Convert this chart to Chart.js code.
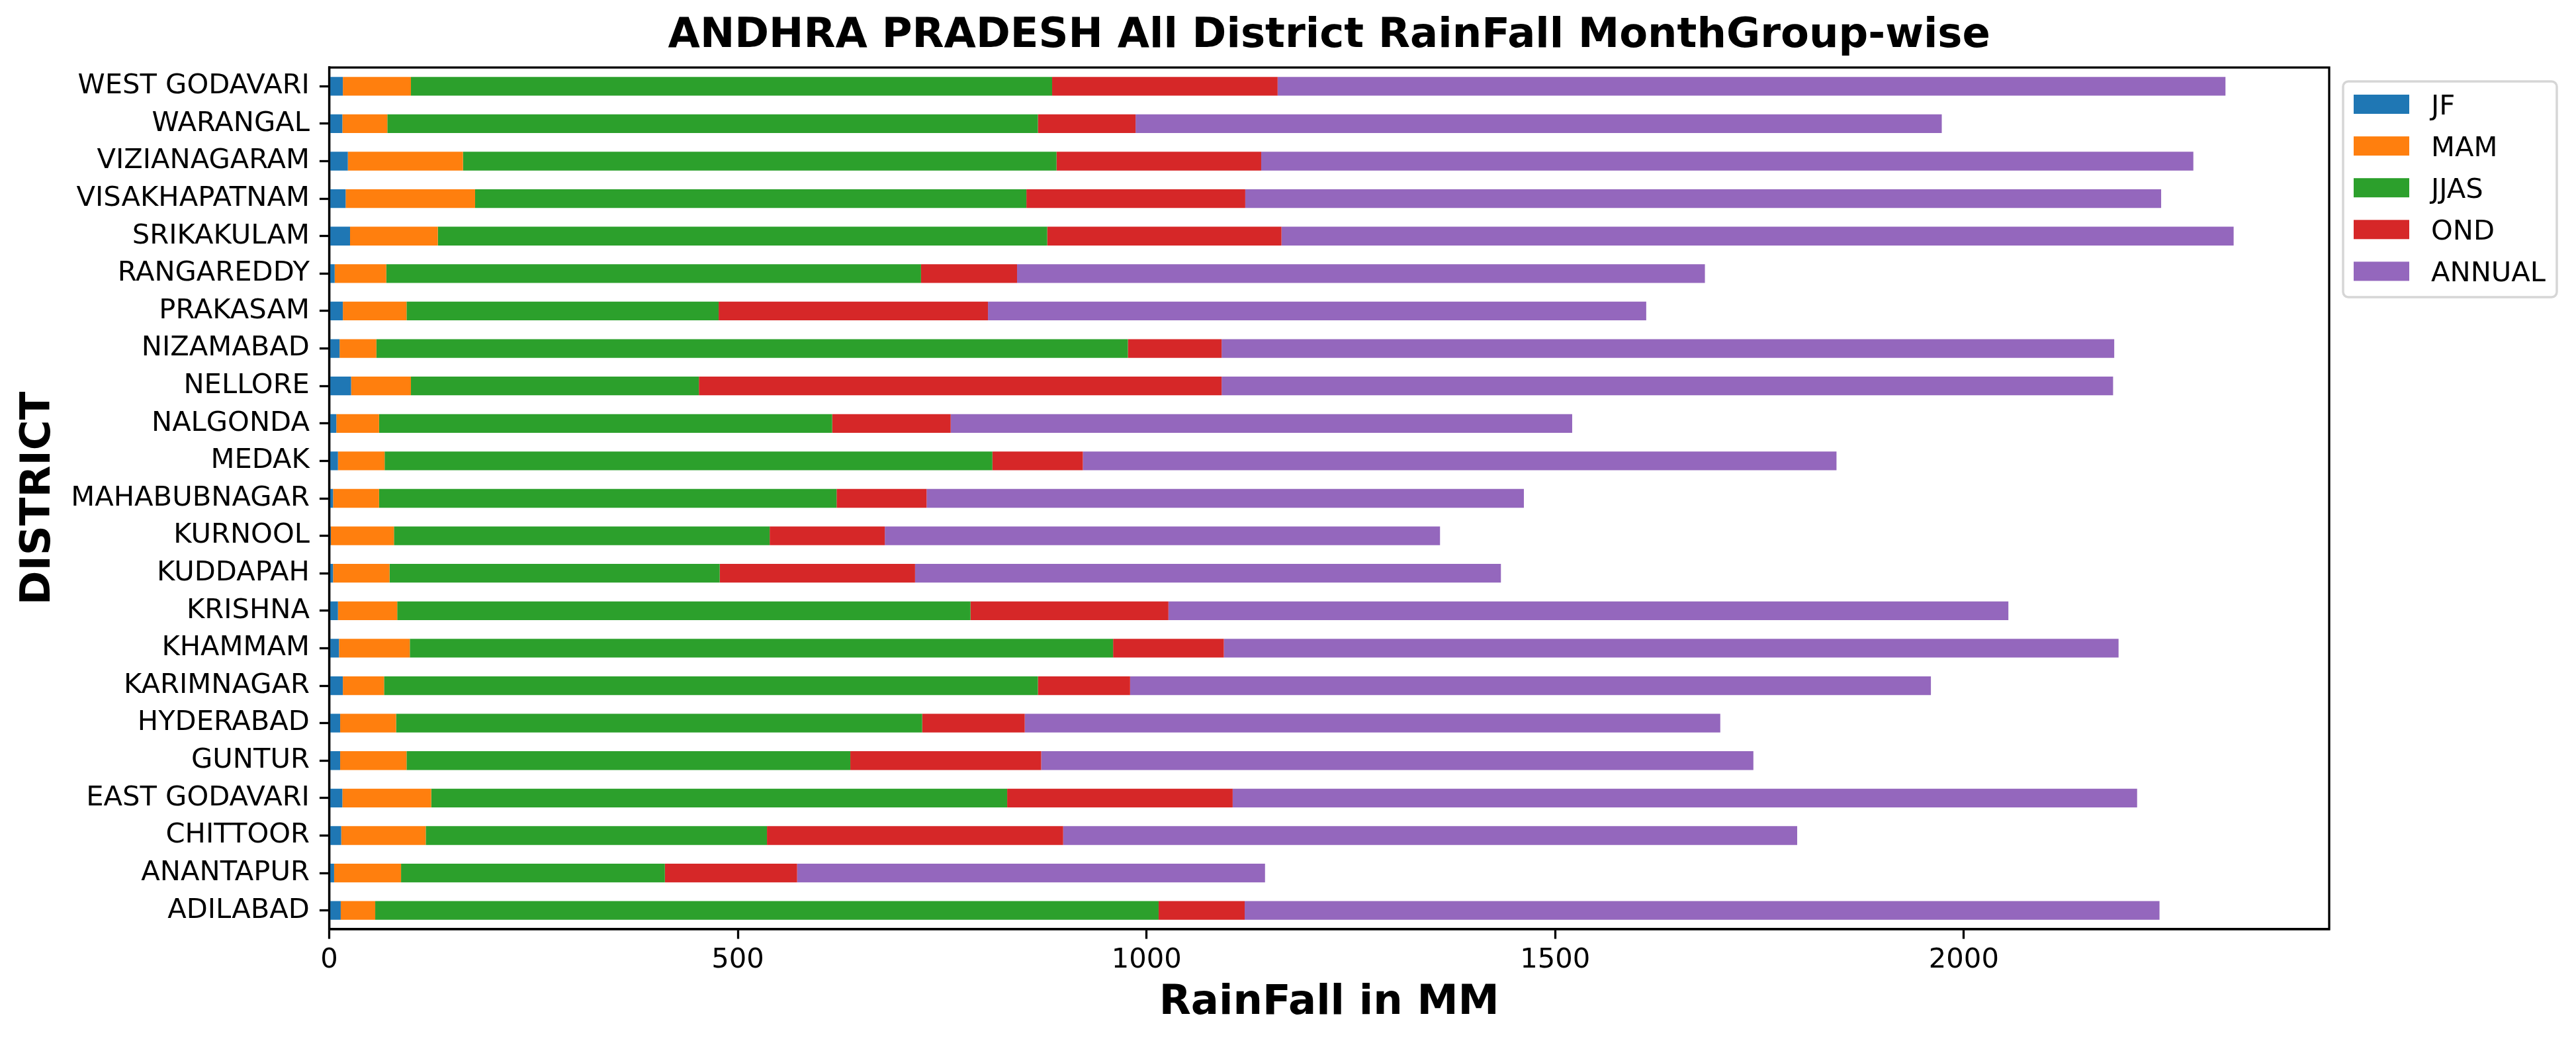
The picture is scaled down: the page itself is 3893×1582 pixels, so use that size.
<!DOCTYPE html>
<html>
<head>
<meta charset="utf-8">
<script src="https://cdn.jsdelivr.net/npm/chart.js@4.4.1/dist/chart.umd.min.js"></script>
<style>
html,body{margin:0;padding:0;background:#fff;overflow:hidden}
#wrap{width:3893px;height:1582px;position:relative}
canvas{display:block}
</style>
</head>
<body>
<div id="wrap"><canvas id="c" width="3893" height="1582"></canvas></div>
<script>
const titleText = 'ANDHRA PRADESH All District RainFall MonthGroup-wise';
const xTitle = 'RainFall in MM';
const yTitle = 'DISTRICT';

const districts = ['ADILABAD','ANANTAPUR','CHITTOOR','EAST GODAVARI','GUNTUR','HYDERABAD','KARIMNAGAR','KHAMMAM','KRISHNA','KUDDAPAH','KURNOOL','MAHABUBNAGAR','MEDAK','NALGONDA','NELLORE','NIZAMABAD','PRAKASAM','RANGAREDDY','SRIKAKULAM','VISAKHAPATNAM','VIZIANAGARAM','WARANGAL','WEST GODAVARI'];

const jf     = [14.1, 6.0, 14.7, 16.1, 13.4, 13.4, 16.7, 12.0, 10.7, 4.7, 2.0, 4.7, 10.7, 8.7, 26.8, 12.7, 16.7, 6.7, 25.5, 20.1, 22.8, 16.1, 16.7];
const mam    = [42.2, 81.9, 103.4, 108.7, 81.2, 68.4, 50.4, 86.6, 72.5, 69.1, 77.2, 56.3, 57.1, 52.3, 73.2, 45.0, 77.9, 63.1, 107.4, 158.4, 140.9, 55.0, 83.3];
const jjas   = [958.5, 322.8, 417.5, 704.7, 543.0, 643.7, 800.0, 860.5, 701.4, 404.0, 459.7, 559.8, 743.6, 554.4, 352.3, 919.5, 381.9, 654.3, 745.6, 674.5, 726.2, 796.0, 784.5];
const ond    = [105.3, 161.8, 362.4, 275.9, 233.5, 125.5, 112.8, 135.5, 242.2, 239.0, 140.9, 110.1, 110.7, 145.0, 639.6, 114.7, 329.5, 117.5, 286.6, 267.8, 250.4, 119.5, 275.9];
const annual = [1119.3, 572.5, 898.1, 1106.6, 871.4, 851.0, 979.8, 1094.7, 1027.7, 716.8, 679.3, 730.8, 922.1, 760.4, 1090.7, 1092.1, 805.4, 841.6, 1165.0, 1120.6, 1140.5, 986.4, 1159.7];

const seriesNames = ['JF','MAM','JJAS','OND','ANNUAL'];
const seriesColors = ['#1f77b4','#ff7f0e','#2ca02c','#d62728','#9467bd'];
const seriesData = [jf, mam, jjas, ond, annual];

const xTicks = [0, 500, 1000, 1500, 2000];
const xMax = 2447;

Chart.defaults.font.family = "'DejaVu Sans', sans-serif";
Chart.defaults.color = '#000';

const TICK_FONT = 41.67;
const LABEL_FONT = 62.5;
const LW = 3.3;

const framePlugin = {
  id: 'frameAndLegend',
  afterDraw(chart) {
    const {ctx, chartArea: a} = chart;
    ctx.save();
    ctx.strokeStyle = '#000';
    ctx.lineWidth = LW;
    ctx.strokeRect(a.left, a.top, a.right - a.left, a.bottom - a.top);

    // legend box (matplotlib style, upper left outside axes)
    const bx = a.right + 21, by = a.top + 21, bw = 323, bh = 326, r = 8;
    ctx.beginPath();
    ctx.moveTo(bx + r, by);
    ctx.lineTo(bx + bw - r, by);
    ctx.arcTo(bx + bw, by, bx + bw, by + r, r);
    ctx.lineTo(bx + bw, by + bh - r);
    ctx.arcTo(bx + bw, by + bh, bx + bw - r, by + bh, r);
    ctx.lineTo(bx + r, by + bh);
    ctx.arcTo(bx, by + bh, bx, by + bh - r, r);
    ctx.lineTo(bx, by + r);
    ctx.arcTo(bx, by, bx + r, by, r);
    ctx.closePath();
    ctx.fillStyle = 'rgba(255,255,255,0.8)';
    ctx.fill();
    ctx.strokeStyle = '#d6d6d6';
    ctx.lineWidth = 3.5;
    ctx.stroke();

    ctx.font = TICK_FONT + "px 'DejaVu Sans'";
    ctx.textAlign = 'left';
    ctx.textBaseline = 'alphabetic';
    chart.data.datasets.forEach((ds, i) => {
      const cy = by + 34.5 + i * 63.1;
      ctx.fillStyle = ds.backgroundColor;
      ctx.fillRect(bx + 16, cy - 14.5, 84, 29);
      ctx.fillStyle = '#000';
      ctx.fillText(ds.label, bx + 133, cy + 0.3645 * TICK_FONT);
    });
    ctx.restore();
  }
};

const gridOpts = {
  drawOnChartArea: false,
  drawTicks: true,
  tickLength: 14.6,
  tickWidth: LW,
  tickColor: '#000',
  offset: false
};

new Chart(document.getElementById('c'), {
  type: 'bar',
  data: {
    labels: districts,
    datasets: seriesNames.map((name, i) => ({
      label: name,
      data: seriesData[i],
      backgroundColor: seriesColors[i],
      borderWidth: 0,
      categoryPercentage: 1.0,
      barPercentage: 0.5
    }))
  },
  options: {
    indexAxis: 'y',
    responsive: false,
    maintainAspectRatio: false,
    devicePixelRatio: 1,
    animation: false,
    layout: { padding: { left: 0, right: 373, top: 0, bottom: 0 } },
    plugins: {
      legend: { display: false },
      tooltip: { enabled: false },
      title: {
        display: true,
        text: titleText,
        fullSize: false,
        color: '#000',
        font: { size: LABEL_FONT, weight: 'bold', lineHeight: 1.2 },
        padding: { top: 17, bottom: 10 }
      }
    },
    scales: {
      x: {
        type: 'linear',
        stacked: true,
        min: 0,
        max: xMax,
        afterBuildTicks(s) { s.ticks = xTicks.map(v => ({ value: v })); },
        grid: gridOpts,
        border: { display: true, color: '#000', width: LW },
        ticks: {
          color: '#000',
          font: { size: TICK_FONT, lineHeight: 1.2 },
          padding: 8,
          maxRotation: 0,
          callback: (v) => String(v)
        },
        title: {
          display: true,
          text: xTitle,
          color: '#000',
          font: { size: LABEL_FONT, weight: 'bold', lineHeight: 1.2 },
          padding: { top: 0, bottom: 28.5 }
        },
        afterFit(s) { s.height = 178; }
      },
      y: {
        type: 'category',
        stacked: true,
        reverse: true,
        offset: true,
        grid: gridOpts,
        border: { display: true, color: '#000', width: LW },
        ticks: {
          color: '#000',
          font: { size: TICK_FONT },
          padding: 15,
          autoSkip: false
        },
        title: {
          display: true,
          text: yTitle,
          color: '#000',
          font: { size: LABEL_FONT, weight: 'bold', lineHeight: 1.2 },
          padding: { top: 21, bottom: 0 }
        },
        afterFit(s) { s.width = 497.5; }
      }
    }
  },
  plugins: [framePlugin]
});
</script>
</body>
</html>
